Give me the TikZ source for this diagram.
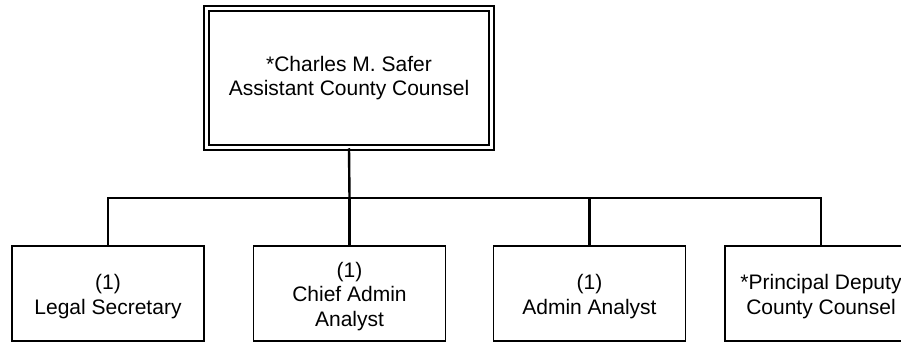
\documentclass[tikz,border=0pt]{standalone}
\usepackage{fontspec}
\setmainfont{Liberation Sans}
\newcommand{\toplinestrut}{\rule{0pt}{21.3pt}}
\begin{document}
\begin{tikzpicture}[x=1pt,y=-1pt,
  txt/.style={font=\fontsize{21}{24.5}\selectfont, align=center},
  box/.style={txt, draw=black, line width=1.3pt, fill=white, minimum width=192pt, minimum height=95pt, inner sep=0pt},
  topbox/.style={txt, draw=black, line width=1.5pt, double=white, double distance=3.5pt, fill=white, minimum width=285pt, minimum height=139pt, inner sep=0pt},
  conn/.style={draw=black, line width=2.4pt}]
\useasboundingbox (0,0) rectangle (901,342);
\coordinate (bus) at (349.5,198);
\node[topbox] (top) at (349,78) {*Charles M. Safer\\Assistant County Counsel};
\node[box] (legal) at (108,293.5) {\toplinestrut(1)\\Legal Secretary};
\node[box] (chief) at (349.5,293.5) {\toplinestrut(1)\\Chief Admin\\Analyst};
\node[box] (admin) at (589.5,293.5) {\toplinestrut(1)\\Admin Analyst};
\node[box] (princ) at (821,293.5) {\toplinestrut*Principal Deputy\\County Counsel};
\draw[conn] (top.south) -- (bus);
\draw[conn] (legal.north) -- (legal.north |- bus) -- (princ.north |- bus) -- (princ.north);
\draw[conn] (chief.north) -- (bus);
\draw[conn] (admin.north) -- (admin.north |- bus);
\end{tikzpicture}
\end{document}
